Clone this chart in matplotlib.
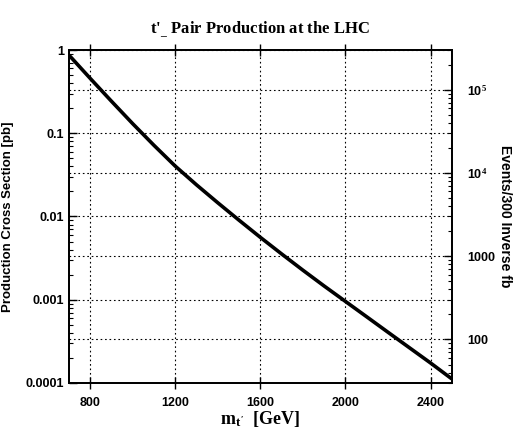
import matplotlib
matplotlib.use("Agg")
import matplotlib.pyplot as plt
from matplotlib.font_manager import FontProperties
from matplotlib.ticker import FixedLocator, FixedFormatter, LogLocator, NullFormatter

# t' pair production cross section vs mass
mass = [700, 800, 900, 1000, 1100, 1200, 1300, 1400, 1500, 1600,
        1700, 1800, 1900, 2000, 2100, 2200, 2300, 2400, 2500]
xsec = [0.871, 0.457, 0.2427, 0.1303, 0.0716, 0.0403, 0.0240, 0.01462, 0.00902,
        0.00562, 0.00355, 0.002265, 0.001462, 0.000955, 0.000624, 0.000407,
        0.000266, 0.000174, 0.000112]

lumi = 3e5  # 300 fb^-1 in pb^-1
x_ticks = [800, 1200, 1600, 2000, 2400]
left_ticks = [1, 0.1, 0.01, 0.001, 0.0001]
left_labels = ["1", "0.1", "0.01", "0.001", "0.0001"]
right_ticks = [100, 1000, 1e4, 1e5]
right_labels = ["100", "1000", r"10$^4$", r"10$^5$"]

plt.rcParams['mathtext.fontset'] = 'custom'
plt.rcParams['mathtext.rm'] = 'Liberation Serif:bold'
plt.rcParams['mathtext.it'] = 'Liberation Serif:bold'
plt.rcParams['mathtext.bf'] = 'Liberation Serif:bold'

fig = plt.figure(figsize=(5.14, 4.33), dpi=100)
ax = fig.add_axes([0.134, 0.1155, 0.745, 0.769])

ax.semilogy(mass, xsec, color='black', lw=2.6, solid_capstyle='butt')
ax.set_xlim(700, 2500)
ax.set_ylim(1e-4, 1)

ax.xaxis.set_major_locator(FixedLocator(x_ticks))
ax.yaxis.set_major_locator(FixedLocator(left_ticks))
ax.yaxis.set_major_formatter(FixedFormatter(left_labels))
ax.yaxis.set_minor_locator(LogLocator(base=10, subs=range(2, 10)))
ax.yaxis.set_minor_formatter(NullFormatter())

tick_font = FontProperties(family='Liberation Sans', weight='bold', size=9)
for lab in ax.get_xticklabels() + ax.get_yticklabels():
    lab.set_fontproperties(tick_font)

ax.tick_params(axis='x', which='major', direction='inout', length=8, width=1,
               top=True, pad=6)
ax.tick_params(axis='y', which='major', direction='in', length=6, width=1)
ax.tick_params(axis='y', which='minor', direction='in', length=3, width=0.8)

ax.grid(True, which='major', color='black', ls=(0, (1.5, 2.5)), lw=0.8)

ax2 = ax.twinx()
ax2.set_yscale('log')
ax2.set_ylim(1e-4 * lumi, 1 * lumi)
ax2.yaxis.set_major_locator(FixedLocator(right_ticks))
ax2.yaxis.set_major_formatter(FixedFormatter(right_labels))
ax2.yaxis.set_minor_locator(LogLocator(base=10, subs=range(2, 10)))
ax2.yaxis.set_minor_formatter(NullFormatter())
ax2.tick_params(axis='y', which='major', direction='in', length=6, width=1, pad=11)
ax2.tick_params(axis='y', which='minor', direction='in', length=3, width=0.8)
for lab in ax2.get_yticklabels():
    lab.set_fontproperties(tick_font)
ax2.grid(True, which='major', axis='y', color='black', ls=(0, (1.5, 2.5)), lw=0.8)

for a in (ax, ax2):
    for s in a.spines.values():
        s.set_linewidth(1.3)

ax.set_ylabel("Production Cross Section [pb]", family='Liberation Sans',
              weight='bold', size=9.5, labelpad=8)
ax2.set_ylabel("Events/300 Inverse fb", family='Liberation Sans',
               weight='bold', size=10, rotation=-90, va='center')
ax2.yaxis.set_label_coords(1.138, 0.5)
ax.set_xlabel(r"m$_{t'}$  [GeV]", family='Liberation Serif', weight='bold',
              size=13, labelpad=0)
ax.set_title(r"t$'_{\_}$ Pair Production at the LHC", family='Liberation Serif',
             weight='bold', size=12, pad=12)

fig.savefig("out.png", dpi=100)
